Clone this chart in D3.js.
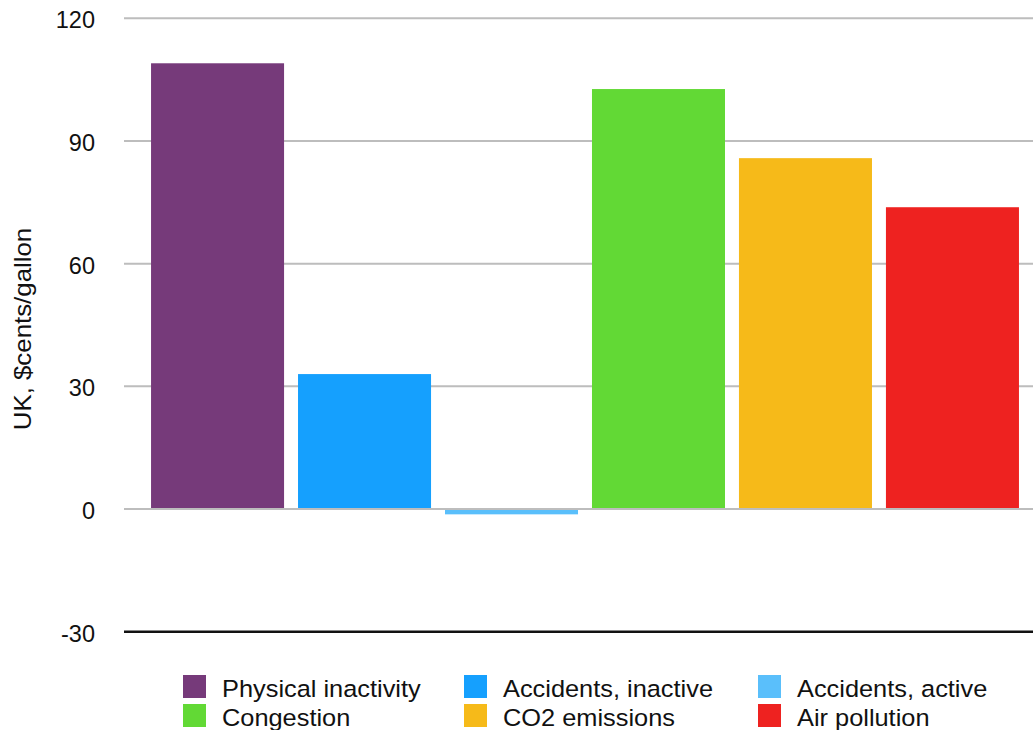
<!DOCTYPE html>
<html>
<head>
<meta charset="utf-8">
<script src="https://cdn.jsdelivr.net/npm/d3@7"></script>
<style>
  html, body { margin: 0; padding: 0; background: #fff; }
  svg { display: block; }
  text { font-family: "Liberation Sans", Arial, Helvetica, sans-serif; fill: #111; }
</style>
</head>
<body>
<svg id="chart" width="1033" height="730"></svg>
<script>
// External costs of driving, UK, in cents per gallon
const categories = ["Physical inactivity", "Accidents, inactive", "Accidents, active",
                    "Congestion", "CO2 emissions", "Air pollution"];
const values = [109, 33, -1.3, 102.7, 85.8, 73.8];
const colors = ["#763a7a", "#15a0fe", "#5abffb", "#62d935", "#f6ba19", "#ee2220"];
const tickValues = [-30, 0, 30, 60, 90, 120];
const yLabel = "UK, $cents/gallon";

const svg = d3.select("#chart");
const W = 1033, H = 730;

const plotLeft = 124, plotRight = 1046;
const y = d3.scaleLinear().domain([-30, 120]).range([631.7, 18.3]);
const x = d3.scaleBand()
  .domain(categories)
  .range([plotLeft, plotRight])
  .paddingInner(0.095)
  .paddingOuter(0.184);

// Horizontal grid lines (the bottom one is drawn as the dark baseline)
const grid = svg.append("g");
grid.selectAll("line")
  .data(tickValues.filter(v => v !== -30))
  .join("line")
  .attr("x1", plotLeft).attr("x2", W + 20)
  .attr("y1", d => y(d)).attr("y2", d => y(d))
  .attr("stroke", "#bdbdbd").attr("stroke-width", 2);

// Bars
svg.append("g").selectAll("rect")
  .data(categories)
  .join("rect")
  .attr("x", d => x(d))
  .attr("width", x.bandwidth())
  .attr("y", (d, i) => y(Math.max(0, values[i])))
  .attr("height", (d, i) => Math.abs(y(values[i]) - y(0)))
  .attr("fill", (d, i) => colors[i]);

// Zero line on top of bars
svg.append("line")
  .attr("x1", plotLeft).attr("x2", W + 20)
  .attr("y1", y(0)).attr("y2", y(0))
  .attr("stroke", "#bdbdbd").attr("stroke-width", 2);

// Bottom baseline
svg.append("line")
  .attr("x1", plotLeft).attr("x2", W + 20)
  .attr("y1", y(-30)).attr("y2", y(-30))
  .attr("stroke", "#111").attr("stroke-width", 2.4);

// Y axis tick labels (plain hyphen for negatives)
const yAxis = d3.axisLeft(y).tickValues(tickValues).tickSize(0).tickPadding(0)
  .tickFormat(d => String(d));
const ax = svg.append("g").attr("transform", "translate(95,0)").call(yAxis);
ax.select(".domain").remove();
ax.selectAll("text")
  .attr("font-size", 23.5)
  .attr("font-family", "'Liberation Sans', Arial, Helvetica, sans-serif")
  .attr("fill", "#111")
  .attr("dy", "0.4em");

// Y axis title
svg.append("text")
  .attr("transform", "translate(31,329) rotate(-90) scale(1.1,1)")
  .attr("text-anchor", "middle")
  .attr("font-size", 23.5)
  .text(yLabel);

// Legend: 3 columns x 2 rows
const legendCols = [183, 464, 758];
const legendRows = [675, 704];
const legend = svg.append("g").selectAll("g")
  .data(categories)
  .join("g")
  .attr("transform", (d, i) => `translate(${legendCols[i % 3]},${legendRows[Math.floor(i / 3)]})`);
legend.append("rect")
  .attr("width", 23).attr("height", 23)
  .attr("fill", (d, i) => colors[i]);
legend.append("text")
  .attr("transform", "translate(39,21.5) scale(1.08,1)")
  .attr("font-size", 23.5)
  .text(d => d);
</script>
</body>
</html>
